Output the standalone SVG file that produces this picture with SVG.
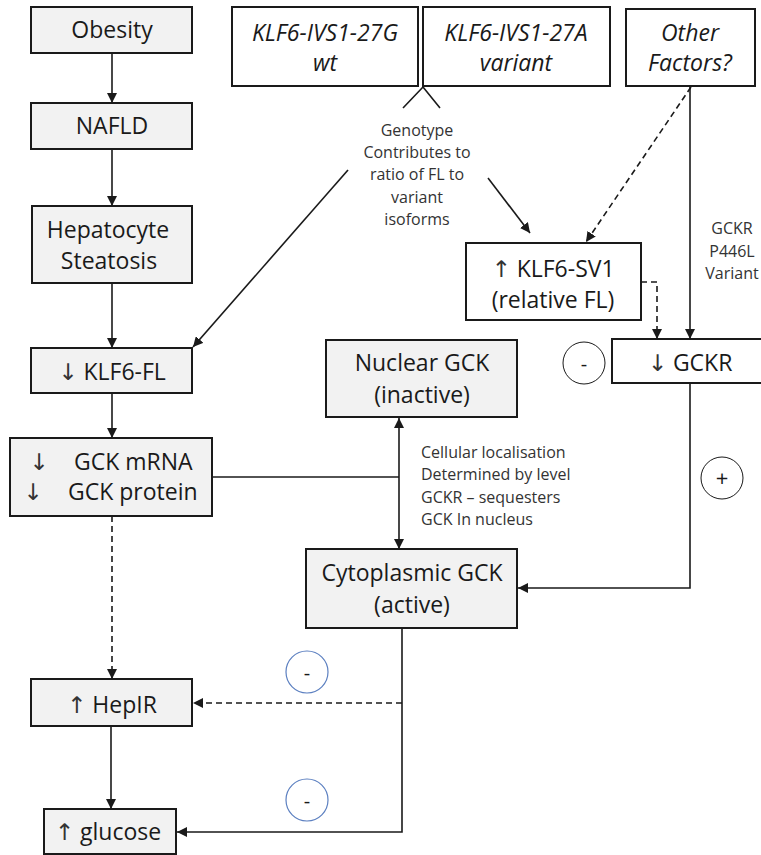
<svg xmlns="http://www.w3.org/2000/svg" width="761" height="855" viewBox="0 0 761 855">
<style>
.box{fill:#f2f2f2;stroke:#1a1a1a;stroke-width:2}
.wbox{fill:#ffffff;stroke:#1a1a1a;stroke-width:2}
.t{font-family:"Open Sans","Liberation Sans",sans-serif;font-size:23px;fill:#1a1a1a;text-anchor:middle}
.it{font-style:italic}
.s{font-family:"Open Sans","Liberation Sans",sans-serif;font-size:16px;fill:#333;text-anchor:middle}
.sl{font-family:"Open Sans","Liberation Sans",sans-serif;font-size:16px;fill:#333}
.ar{font-family:"DejaVu Sans",sans-serif;fill:#333}
.ln{fill:none;stroke:#1a1a1a;stroke-width:1.6}
.dl{fill:none;stroke:#1a1a1a;stroke-width:1.6;stroke-dasharray:6,4}
.c{fill:#fff;stroke:#1a1a1a;stroke-width:1}
.cb{fill:#fff;stroke:#5b7fc0;stroke-width:1.2}
</style>
<defs>
<marker id="ah" viewBox="0 0 10 10" refX="10" refY="5" markerWidth="10" markerHeight="10" markerUnits="userSpaceOnUse" orient="auto-start-reverse">
<path d="M0,0 L10,5 L0,10 Z" fill="#1a1a1a"/>
</marker>
</defs>
<rect width="761" height="855" fill="#fff"/>

<g id="connectors">
<line class="ln" x1="112" y1="53" x2="112" y2="103" marker-end="url(#ah)"/>
<line class="ln" x1="112" y1="149" x2="112" y2="206" marker-end="url(#ah)"/>
<line class="ln" x1="112" y1="283" x2="112" y2="348" marker-end="url(#ah)"/>
<line class="ln" x1="112" y1="393" x2="112" y2="438" marker-end="url(#ah)"/>
<line class="ln" x1="348" y1="170" x2="193" y2="347" marker-end="url(#ah)"/>
<line class="ln" x1="488" y1="178" x2="530" y2="233" marker-end="url(#ah)"/>
<line class="dl" x1="691" y1="87" x2="586" y2="242" marker-end="url(#ah)"/>
<path class="ln" d="M423,87 L403,108 M423,87 L440,108"/>
<polyline class="dl" points="641,282 657,282 657,339" marker-end="url(#ah)"/>
<line class="ln" x1="690" y1="87" x2="690" y2="339" marker-end="url(#ah)"/>
<polyline class="ln" points="690,383 690,588 518,588" marker-end="url(#ah)"/>
<line class="ln" x1="212" y1="477" x2="399" y2="477"/>
<line class="ln" x1="399" y1="418" x2="399" y2="549" marker-start="url(#ah)" marker-end="url(#ah)"/>
<line class="dl" x1="112" y1="516" x2="112" y2="679" marker-end="url(#ah)"/>
<line class="ln" x1="111" y1="726" x2="111" y2="809" marker-end="url(#ah)"/>
<polyline class="ln" points="402,628 402,832 177,832" marker-end="url(#ah)"/>
<line class="dl" x1="402" y1="703" x2="193" y2="703" marker-end="url(#ah)"/>
</g>

<g id="obesity"><rect class="box" x="31" y="7" width="161" height="46"/><text class="t" x="112" y="38">Obesity</text></g>
<g id="nafld"><rect class="box" x="31" y="103" width="161" height="46"/><text class="t" x="112" y="134">NAFLD</text></g>
<g id="steatosis"><rect class="box" x="32" y="206" width="160" height="77"/><text class="t" x="108" y="238">Hepatocyte</text><text class="t" x="109" y="269">Steatosis</text></g>
<g id="klf6fl"><rect class="box" x="31" y="348" width="161" height="45"/><text class="t" x="112" y="380"><tspan class="ar">↓</tspan> KLF6-FL</text></g>
<g id="gck"><rect class="box" x="10" y="438" width="202" height="78"/>
<text class="t ar" x="39" y="470">↓</text><text class="t" x="74" y="470" style="text-anchor:start">GCK mRNA</text>
<text class="t ar" x="33" y="500">↓</text><text class="t" x="68" y="500" style="text-anchor:start">GCK protein</text></g>
<g id="hepir"><rect class="box" x="31" y="679" width="161" height="47"/><text class="t" x="112" y="713"><tspan class="ar">↑</tspan> HepIR</text></g>
<g id="glucose"><rect class="box" x="44" y="809" width="132" height="45"/><text class="t" x="108" y="840"><tspan class="ar">↑</tspan> glucose</text></g>

<g id="wt"><rect class="wbox" x="232" y="7" width="186" height="79"/><text class="t it" x="325" y="41">KLF6-IVS1-27G</text><text class="t it" x="325" y="71">wt</text></g>
<g id="variant"><rect class="wbox" x="423" y="7" width="187" height="79"/><text class="t it" x="516" y="41">KLF6-IVS1-27A</text><text class="t it" x="516" y="71">variant</text></g>
<g id="other"><rect class="wbox" x="626" y="9" width="129" height="77"/><text class="t it" x="690" y="41">Other</text><text class="t it" x="690" y="71">Factors?</text></g>

<g id="genotype-label">
<text class="s" x="417" y="136">Genotype</text>
<text class="s" x="417" y="158">Contributes to</text>
<text class="s" x="417" y="180">ratio of FL to</text>
<text class="s" x="417" y="203">variant</text>
<text class="s" x="417" y="225">isoforms</text>
</g>
<g id="gckr-variant-label">
<text class="s" x="732" y="234">GCKR</text>
<text class="s" x="732" y="257">P446L</text>
<text class="s" x="732" y="279">Variant</text>
</g>

<g id="klf6sv1"><rect class="wbox" x="466" y="243" width="175" height="77"/><text class="t" x="553" y="277"><tspan class="ar">↑</tspan> KLF6-SV1</text><text class="t" x="553" y="308">(relative FL)</text></g>
<g id="gckr"><rect class="wbox" x="612" y="339" width="160" height="44"/><text class="t" x="690" y="371"><tspan class="ar">↓</tspan> GCKR</text></g>
<g id="minus1"><circle class="c" cx="584" cy="363" r="21"/><text class="t" x="584" y="371" style="font-size:20px">-</text></g>
<g id="plus"><circle class="c" cx="722" cy="478" r="21"/><text class="t" x="722" y="486" style="font-size:22px">+</text></g>

<g id="nuclear"><rect class="box" x="326" y="340" width="191" height="77"/><text class="t" x="422" y="371">Nuclear GCK</text><text class="t" x="422" y="403">(inactive)</text></g>
<g id="loc-label">
<text class="sl" x="421" y="458">Cellular localisation</text>
<text class="sl" x="421" y="480">Determined by level</text>
<text class="sl" x="421" y="503">GCKR – sequesters</text>
<text class="sl" x="421" y="525">GCK In nucleus</text>
</g>
<g id="cytoplasmic"><rect class="box" x="306" y="549" width="211" height="79"/><text class="t" x="412" y="581">Cytoplasmic GCK</text><text class="t" x="412" y="613">(active)</text></g>

<g id="minus2"><circle class="cb" cx="307" cy="672" r="21"/><text class="t" x="307" y="680" style="font-size:20px">-</text></g>
<g id="minus3"><circle class="cb" cx="307" cy="800" r="21"/><text class="t" x="307" y="808" style="font-size:20px">-</text></g>
</svg>
